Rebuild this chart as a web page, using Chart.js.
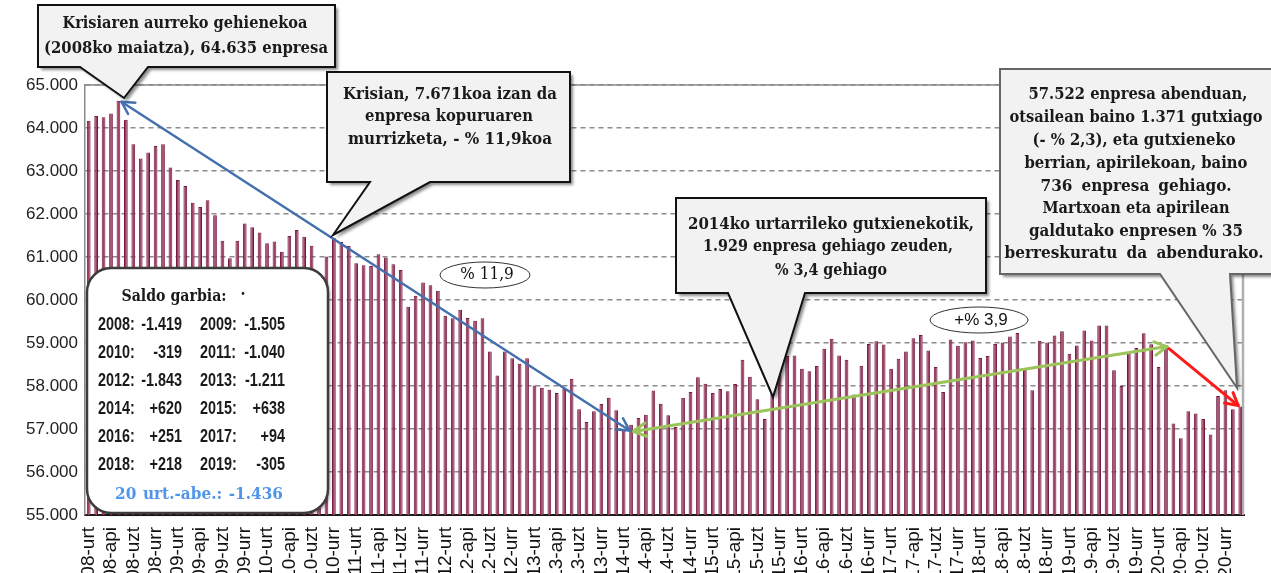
<!DOCTYPE html>
<html>
<head>
<meta charset="utf-8">
<script src="https://cdn.jsdelivr.net/npm/chart.js@4.4.1/dist/chart.umd.min.js"></script>
<style>
  html, body { margin: 0; padding: 0; background: #fff; }
  canvas { display: block; }
</style>
</head>
<body>
<canvas id="enpresak" width="1271" height="573"></canvas>
<script>
// hilabeteen laburdurak eta urteak (x ardatza)
const hilak = ['urt', 'ots', 'mar', 'api', 'mai', 'eka', 'uzt', 'abu', 'ira', 'urr', 'aza', 'abe'];
const urteak = ['08', '09', '10', '11', '12', '13', '14', '15', '16', '17', '18', '19', '20'];

// enpresa kopurua hilabeteka
const v2008 = [64170, 64280, 64250, 64340, 64635, 64190, 63620, 63290, 63430, 63580, 63620, 63080];
const v2009 = [62790, 62650, 62260, 62160, 62320, 61970, 61380, 60970, 61380, 61780, 61690, 61570];
const v2010 = [61320, 61360, 61120, 61490, 61630, 61470, 61260, 60630, 61010, 61449, 61347, 61256];
const v2011 = [60854, 60808, 60792, 61063, 60986, 60831, 60699, 59843, 60097, 60407, 60345, 60216];
const v2012 = [59634, 59574, 59773, 59581, 59518, 59574, 58801, 58245, 58801, 58648, 58516, 58645];
const v2013 = [58012, 57958, 57912, 57835, 57935, 58167, 57457, 57164, 57410, 57580, 57727, 57434];
const v2014 = [56964, 57100, 57256, 57333, 57897, 57588, 57318, 57048, 57727, 57858, 58205, 58054];
const v2015 = [57840, 57932, 57878, 58048, 58611, 58218, 57693, 57230, 57824, 58250, 58700, 58712];
const v2016 = [58403, 58341, 58465, 58866, 59097, 58711, 58611, 57800, 58470, 58979, 59042, 58963];
const v2017 = [58400, 58632, 58801, 59111, 59187, 58824, 58440, 57861, 59079, 58935, 59020, 59057];
const v2018 = [58650, 58696, 58975, 59010, 59150, 59230, 58375, 57900, 59050, 59010, 59172, 59275];
const v2019 = [58750, 58943, 59290, 59060, 59406, 59406, 58364, 58002, 58760, 58881, 59228, 58970];
const v2020 = [58441, 58893, 57130, 56786, 57415, 57361, 57230, 56875, 57770, 57900, 57460, 57522];

// saldo garbia urteka (koadroko testua)
const saldoUrteak = ['2008', '2009', '2010', '2011', '2012', '2013', '2014', '2015', '2016', '2017', '2018', '2019'];
const saldoak = ['-1.419', '-1.505', '-319', '-1.040', '-1.843', '-1.211', '+620', '+638', '+251', '+94', '+218', '-305'];

const balioak = [].concat(v2008, v2009, v2010, v2011, v2012, v2013, v2014, v2015, v2016, v2017, v2018, v2019, v2020);
const etiketak = [];
urteak.forEach(function (u) {
  hilak.forEach(function (h) { etiketak.push(u + '-' + h); });
});

function puntuak(v) {
  return String(v).replace(/\B(?=(\d{3})+(?!\d))/g, '.');
}

const SERIF = "'DejaVu Serif Condensed', 'DejaVu Serif', serif";

// testu lerroa, zabalera jakin bateraino justifikatuta
function rivi(ctx, txt, cx, y, w) {
  ctx.save();
  ctx.wordSpacing = '0px';
  const m = ctx.measureText(txt).width;
  const n = (txt.match(/ /g) || []).length;
  if (m > w) {
    ctx.translate(cx, y);
    ctx.scale(w / m, 1);
    ctx.fillText(txt, 0, 0);
  } else {
    if (n) ctx.wordSpacing = ((w - m) / n).toFixed(2) + 'px';
    ctx.fillText(txt, cx, y);
  }
  ctx.restore();
}

// gezia (punta irekiak)
function gezia(ctx, x1, y1, x2, y2, kolorea, zab, biak) {
  const ang = Math.atan2(y2 - y1, x2 - x1);
  const L = 14, a = 0.5;
  ctx.save();
  ctx.strokeStyle = kolorea;
  ctx.lineWidth = zab;
  ctx.lineCap = 'round';
  ctx.lineJoin = 'round';
  ctx.beginPath();
  ctx.moveTo(x1, y1);
  ctx.lineTo(x2, y2);
  ctx.stroke();
  const punta = function (x, y, an) {
    ctx.beginPath();
    ctx.moveTo(x - L * Math.cos(an - a), y - L * Math.sin(an - a));
    ctx.lineTo(x, y);
    ctx.lineTo(x - L * Math.cos(an + a), y - L * Math.sin(an + a));
    ctx.stroke();
  };
  punta(x2, y2, ang);
  if (biak) punta(x1, y1, ang + Math.PI);
  ctx.restore();
}

// bokadilloa: laukia + behealdeko punta
function bokadilloa(ctx, b, ertza) {
  const x = b.x, y = b.y, w = b.w, h = b.h;
  ctx.save();
  ctx.beginPath();
  ctx.moveTo(x, y);
  ctx.lineTo(x + w, y);
  ctx.lineTo(x + w, y + h);
  ctx.lineTo(b.p[1], y + h);
  ctx.lineTo(b.p[2], b.p[3]);
  ctx.lineTo(b.p[0], y + h);
  ctx.lineTo(x, y + h);
  ctx.closePath();
  ctx.shadowColor = 'rgba(0,0,0,0.45)';
  ctx.shadowOffsetX = 3;
  ctx.shadowOffsetY = 3;
  ctx.shadowBlur = 3;
  ctx.fillStyle = '#f2f2f2';
  ctx.fill();
  ctx.shadowColor = 'transparent';
  ctx.lineWidth = 2;
  ctx.lineJoin = 'miter';
  ctx.strokeStyle = ertza;
  ctx.stroke();
  ctx.fillStyle = '#1a1a1a';
  ctx.font = 'bold ' + b.f + 'px ' + SERIF;
  ctx.textAlign = 'center';
  ctx.textBaseline = 'middle';
  b.l.forEach(function (l) { rivi(ctx, l[0], l[1], l[2], l[3]); });
  ctx.restore();
}

function elipsea(ctx, cx, cy, rx, ry, txt, font) {
  ctx.save();
  ctx.beginPath();
  ctx.ellipse(cx, cy, rx, ry, 0, 0, Math.PI * 2);
  ctx.fillStyle = '#fff';
  ctx.fill();
  ctx.lineWidth = 1;
  ctx.strokeStyle = '#333';
  ctx.stroke();
  ctx.fillStyle = '#111';
  ctx.font = font;
  ctx.textAlign = 'center';
  ctx.textBaseline = 'middle';
  ctx.fillText(txt, cx + 2, cy);
  ctx.restore();
}

const markoa = {
  id: 'markoa',
  beforeDatasetsDraw: function (chart) {
    const ctx = chart.ctx, a = chart.chartArea;
    ctx.save();
    ctx.strokeStyle = '#8a8a8a';
    ctx.lineWidth = 1.5;
    ctx.beginPath();
    ctx.moveTo(a.left, a.top);
    ctx.lineTo(a.right, a.top);
    ctx.stroke();
    ctx.strokeStyle = '#b0b0b0';
    ctx.lineWidth = 2.5;
    ctx.beginPath();
    ctx.moveTo(a.right - 1, a.top);
    ctx.lineTo(a.right - 1, a.bottom);
    ctx.stroke();
    ctx.restore();
  }
};

const oharrak = {
  id: 'oharrak',
  afterDraw: function (chart) {
    const ctx = chart.ctx;
    const xs = chart.scales.x, ys = chart.scales.y;
    const px = function (i) { return xs.getPixelForValue(i); };
    const py = function (i) { return ys.getPixelForValue(balioak[i]); };

    // saldo garbiaren koadroa
    ctx.save();
    ctx.beginPath();
    ctx.roundRect(87, 268, 241, 245, 24);
    ctx.shadowColor = 'rgba(0,0,0,0.35)';
    ctx.shadowOffsetX = 2;
    ctx.shadowOffsetY = 2;
    ctx.shadowBlur = 3;
    ctx.fillStyle = '#fff';
    ctx.fill();
    ctx.shadowColor = 'transparent';
    ctx.lineWidth = 2.5;
    ctx.strokeStyle = '#3c3c3c';
    ctx.stroke();
    ctx.fillStyle = '#1a1a1a';
    ctx.textBaseline = 'middle';
    ctx.font = 'bold 16px ' + SERIF;
    ctx.textAlign = 'center';
    rivi(ctx, 'Saldo garbia:', 174, 297, 105);
    ctx.fillText('.', 243, 291);
    ctx.font = "bold 18px 'Liberation Sans', Arial, sans-serif";
    const kx = 0.8;
    for (let r = 0; r < 6; r++) {
      const y = 325 + r * 28;
      for (let c = 0; c < 2; c++) {
        const k = r * 2 + c;
        const xl = c === 0 ? 98 : 200;
        const xr = c === 0 ? 182 : 285;
        ctx.save();
        ctx.translate(xl, y);
        ctx.scale(kx, 1);
        ctx.textAlign = 'left';
        ctx.fillText(saldoUrteak[k] + ':', 0, 0);
        ctx.restore();
        ctx.save();
        ctx.translate(xr, y);
        ctx.scale(kx, 1);
        ctx.textAlign = 'right';
        ctx.fillText(saldoak[k], 0, 0);
        ctx.restore();
      }
    }
    ctx.fillStyle = '#4f95e8';
    ctx.font = 'bold 17px ' + SERIF;
    ctx.textAlign = 'center';
    rivi(ctx, '20 urt.-abe.: -1.436', 199, 495, 168);
    ctx.restore();

    // elipseak
    elipsea(ctx, 485, 275, 45, 13, '% 11,9', '17px ' + SERIF);
    elipsea(ctx, 979, 320, 49, 13, '+% 3,9', "17px 'Liberation Sans', Arial, sans-serif");

    // geziak datuetatik
    const iMax = balioak.indexOf(Math.max.apply(null, balioak));
    const iMin = etiketak.indexOf('14-urt');
    const iOts = etiketak.indexOf('20-ots');
    const iAzk = balioak.length - 1;
    gezia(ctx, px(iMin) + 6, py(iMin), px(iMax) + 3, py(iMax) + 1, '#4470ad', 2.5, true);
    gezia(ctx, px(iMin) + 10, py(iMin) + 1, px(iOts) + 1, py(iOts) - 1, '#9bc45a', 3, true);
    gezia(ctx, px(iOts) + 3, py(iOts) + 1, px(iAzk) - 2, py(iAzk) - 1, '#ff1a1a', 3, false);

    // bokadilloak
    bokadilloa(ctx, {
      x: 38, y: 5, w: 297, h: 62, p: [80, 148, 124, 98], f: 17,
      l: [['Krisiaren aurreko gehienekoa', 185, 24, 245],
          ['(2008ko maiatza), 64.635 enpresa', 186, 49, 284]]
    }, '#111');
    bokadilloa(ctx, {
      x: 327, y: 72, w: 243, h: 110, p: [370, 430, 333, 235], f: 17,
      l: [['Krisian, 7.671koa izan da', 450, 95, 214],
          ['enpresa kopuruaren', 449, 117, 168],
          ['murrizketa, - % 11,9koa', 450, 140, 204]]
    }, '#111');
    bokadilloa(ctx, {
      x: 676, y: 198, w: 310, h: 95, p: [728, 805, 773, 397], f: 17,
      l: [['2014ko urtarrileko gutxienekotik,', 831, 225, 286],
          ['1.929 enpresa gehiago zeuden,', 828, 247, 250],
          ['% 3,4 gehiago', 831, 271, 112]]
    }, '#111');
    bokadilloa(ctx, {
      x: 1000, y: 69, w: 272, h: 205, p: [1160, 1230, 1237, 388], f: 17,
      l: [['57.522 enpresa abenduan,', 1138, 95, 219],
          ['otsailean baino 1.371 gutxiago', 1136, 118, 253],
          ['(- % 2,3), eta gutxieneko', 1134, 141, 203],
          ['berrian, apirilekoan, baino', 1136, 164, 223],
          ['736 enpresa gehiago.', 1136, 187, 191],
          ['Martxoan eta apirilean', 1136, 209, 187],
          ['galdutako enpresen % 35', 1136, 232, 214],
          ['berreskuratu da abendurako.', 1134, 254, 259]]
    }, '#666');
  }
};

let ctxEnp = document.getElementById('enpresak');
let config = {
  type: 'bar',
  data: {
    labels: etiketak,
    datasets: [{
      data: balioak,
      backgroundColor: '#9c4266',
      borderColor: '#76173d',
      borderWidth: 1,
      barPercentage: 0.5,
      categoryPercentage: 1
    }]
  },
  options: {
    responsive: false,
    animation: false,
    devicePixelRatio: 1,
    layout: { padding: { top: 85, right: 27, left: 0, bottom: 0 } },
    plugins: { legend: { display: false }, tooltip: { enabled: false } },
    scales: {
      x: {
        grid: { display: false },
        border: { display: true, color: '#1a1a1a', width: 2 },
        ticks: {
          autoSkip: false,
          minRotation: 90,
          maxRotation: 90,
          padding: 4,
          color: '#111',
          font: { family: "'Liberation Sans', Arial, sans-serif", size: 19 },
          callback: function (v, i) { return i % 3 === 0 ? etiketak[i] : ''; }
        },
        afterFit: function (s) { s.height = 58; }
      },
      y: {
        min: 55000,
        max: 65000,
        grid: { color: '#8c8c8c', lineWidth: 1.5, drawTicks: false },
        border: { display: true, color: '#8a8a8a', width: 1.5, dash: [5, 4] },
        ticks: {
          stepSize: 1000,
          padding: 7,
          color: '#222',
          font: { family: "'Liberation Sans', Arial, sans-serif", size: 17 },
          callback: function (v) { return puntuak(v); }
        },
        afterFit: function (s) { s.width = 85; }
      }
    }
  },
  plugins: [markoa, oharrak]
};
let chartEnp = new Chart(ctxEnp, config);
</script>
</body>
</html>
